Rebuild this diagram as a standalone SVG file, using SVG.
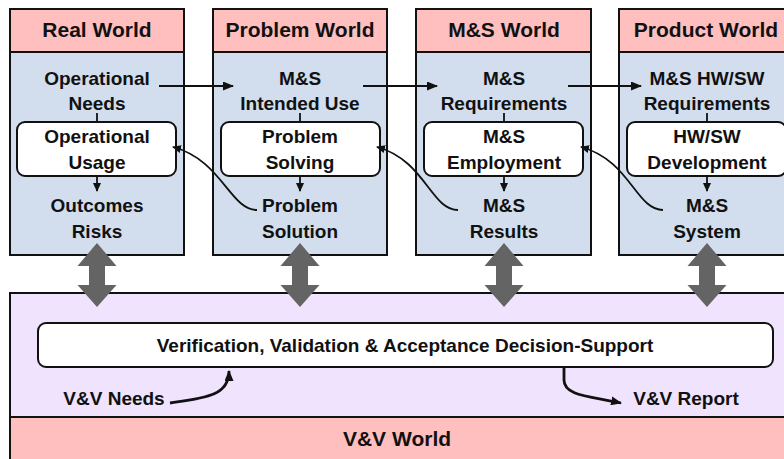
<svg xmlns="http://www.w3.org/2000/svg" width="784" height="459" viewBox="0 0 784 459">
<style>
.hdr{fill:#FFBFBF;stroke:#111;stroke-width:2}
.body{fill:#D2DEEE;stroke:#111;stroke-width:2}
.inner{fill:#fff;stroke:#111;stroke-width:2}
.t{font-family:"Liberation Sans",Arial,sans-serif;font-weight:bold;font-size:19px;fill:#111;text-anchor:middle}
.h{font-size:21px}
.ln{fill:none;stroke:#111;stroke-width:1.8}
.lnk{fill:none;stroke:#111;stroke-width:2.8}
.dbl{fill:#646464}
</style>
<defs>
<marker id="ah" markerUnits="userSpaceOnUse" markerWidth="11" markerHeight="9" refX="10" refY="4.5" orient="auto">
<path d="M0,0 L11,4.5 L0,9 z" fill="#111"/>
</marker>
<marker id="ahs" markerUnits="userSpaceOnUse" markerWidth="9" markerHeight="8" refX="8" refY="4" orient="auto">
<path d="M0,0 L9,4 L0,8 z" fill="#111"/>
</marker>
</defs>

<g id="vv-world">
<rect x="10" y="293" width="790" height="124" fill="#EFE3FD" stroke="#111" stroke-width="2"/>
<rect x="10" y="417" width="790" height="50" fill="#FFBFBF" stroke="#111" stroke-width="2"/>
<text class="t h" x="397" y="446">V&amp;V World</text>
</g>

<g id="vv-support">
<rect class="inner" x="38" y="323" width="735" height="44" rx="8"/>
<text class="t" x="405" y="352">Verification, Validation &amp; Acceptance Decision-Support</text>
</g>
<g id="vv-needs"><text class="t" x="114" y="405">V&amp;V Needs</text></g>
<g id="vv-report"><text class="t" x="686" y="405">V&amp;V Report</text></g>

<g id="real-world">
<rect class="body" x="10" y="9" width="174" height="246"/>
<rect class="hdr" x="10" y="9" width="174" height="43"/>
<text class="t h" x="97" y="37">Real World</text>
<text class="t" x="97" y="85">Operational</text>
<text class="t" x="97" y="110">Needs</text>
<rect class="inner" x="17" y="122" width="159" height="54" rx="8"/>
<text class="t" x="97" y="143">Operational</text>
<text class="t" x="97" y="169">Usage</text>
<text class="t" x="97" y="212">Outcomes</text>
<text class="t" x="97" y="238">Risks</text>
</g>

<g id="problem-world">
<rect class="body" x="213" y="9" width="174" height="246"/>
<rect class="hdr" x="213" y="9" width="174" height="43"/>
<text class="t h" x="300" y="37">Problem World</text>
<text class="t" x="300" y="85">M&amp;S</text>
<text class="t" x="300" y="110">Intended Use</text>
<rect class="inner" x="221" y="122" width="159" height="54" rx="8"/>
<text class="t" x="300" y="143">Problem</text>
<text class="t" x="300" y="169">Solving</text>
<text class="t" x="300" y="212">Problem</text>
<text class="t" x="300" y="238">Solution</text>
</g>

<g id="ms-world">
<rect class="body" x="416" y="9" width="175" height="246"/>
<rect class="hdr" x="416" y="9" width="175" height="43"/>
<text class="t h" x="504" y="37">M&amp;S World</text>
<text class="t" x="504" y="85">M&amp;S</text>
<text class="t" x="504" y="110">Requirements</text>
<rect class="inner" x="424" y="122" width="159" height="54" rx="8"/>
<text class="t" x="504" y="143">M&amp;S</text>
<text class="t" x="504" y="169">Employment</text>
<text class="t" x="504" y="212">M&amp;S</text>
<text class="t" x="504" y="238">Results</text>
</g>

<g id="product-world">
<rect class="body" x="619" y="9" width="175" height="246"/>
<rect class="hdr" x="619" y="9" width="175" height="43"/>
<text class="t h" x="706" y="37">Product World</text>
<text class="t" x="707" y="85">M&amp;S HW/SW</text>
<text class="t" x="707" y="110">Requirements</text>
<rect class="inner" x="627" y="122" width="159" height="54" rx="8"/>
<text class="t" x="707" y="143">HW/SW</text>
<text class="t" x="707" y="169">Development</text>
<text class="t" x="707" y="212">M&amp;S</text>
<text class="t" x="707" y="238">System</text>
</g>

<g id="connectors">
<line class="ln" x1="97" y1="113" x2="97" y2="122"/>
<line class="ln" x1="300" y1="113" x2="300" y2="122"/>
<line class="ln" x1="504" y1="113" x2="504" y2="122"/>
<line class="ln" x1="707" y1="113" x2="707" y2="122"/>
<line class="ln" x1="97" y1="176" x2="97" y2="191" marker-end="url(#ahs)"/>
<line class="ln" x1="300" y1="176" x2="300" y2="191" marker-end="url(#ahs)"/>
<line class="ln" x1="504" y1="176" x2="504" y2="191" marker-end="url(#ahs)"/>
<line class="ln" x1="707" y1="176" x2="707" y2="191" marker-end="url(#ahs)"/>
<line class="ln" x1="159" y1="86" x2="233" y2="86" marker-end="url(#ah)"/>
<line class="ln" x1="363" y1="86" x2="437" y2="86" marker-end="url(#ah)"/>
<line class="ln" x1="568" y1="86" x2="641" y2="86" marker-end="url(#ah)"/>
<path class="ln" d="M257 210 C230 210 222 160 173 147" marker-end="url(#ahs)"/>
<path class="ln" d="M458 210 C431 210 425 160 377 147" marker-end="url(#ahs)"/>
<path class="ln" d="M663 210 C636 210 630 160 581 147" marker-end="url(#ahs)"/>
<path class="lnk" d="M170 403 C205 398 229 396 229 371" marker-end="url(#ah)"/>
<path class="lnk" d="M564 367 L564 380 C564 396 590 396 621 403" marker-end="url(#ah)"/>
<polygon class="dbl" points="97,243 116.5,266 105,266 105,285 116.5,285 97,307 77.5,285 89,285 89,266 77.5,266"/>
<polygon class="dbl" points="300,243 319.5,266 308,266 308,285 319.5,285 300,307 280.5,285 292,285 292,266 280.5,266"/>
<polygon class="dbl" points="504,243 523.5,266 512,266 512,285 523.5,285 504,307 484.5,285 496,285 496,266 484.5,266"/>
<polygon class="dbl" points="707,243 726.5,266 715,266 715,285 726.5,285 707,307 687.5,285 699,285 699,266 687.5,266"/>
</g>
</svg>
